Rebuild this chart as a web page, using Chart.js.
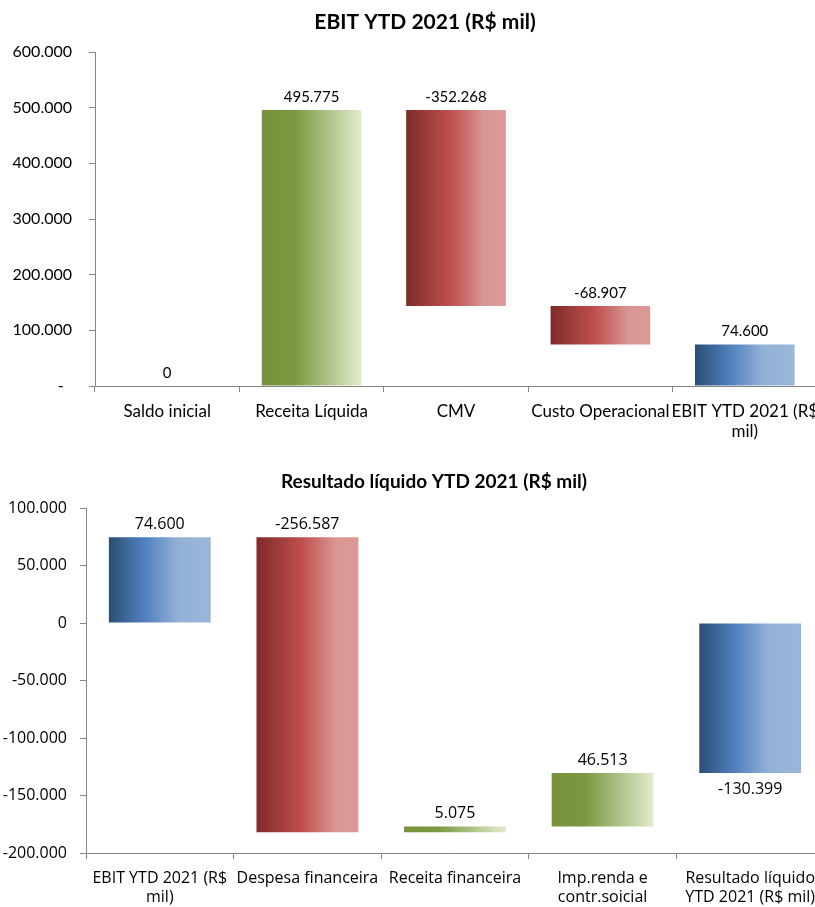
<!DOCTYPE html>
<html>
<head>
<meta charset="utf-8">
<script src="https://cdn.jsdelivr.net/npm/chart.js@4.4.1/dist/chart.umd.min.js"></script>
<style>
  html, body { margin: 0; padding: 0; background: #fff; overflow: hidden; width: 815px; height: 907px; }
  .box { position: absolute; left: 0; }
  #top { top: 0; width: 817px; height: 455px; }
  #bottom { top: 460px; width: 824px; height: 447px; }
</style>
</head>
<body>
<div class="box" id="top"><canvas id="ebitChart"></canvas></div>
<div class="box" id="bottom"><canvas id="resultChart"></canvas></div>
<script>
// ========================================
// DATA
// ========================================
const ebitLabels = ['Saldo inicial', 'Receita Líquida', 'CMV', 'Custo Operacional', ['EBIT YTD 2021 (R$', 'mil)']];
const ebitValues = [0, 495775, -352268, -68907, 74600];
const ebitKinds = ['total', 'delta', 'delta', 'delta', 'total'];
const ebitTicks = [0, 100000, 200000, 300000, 400000, 500000, 600000];

const resultLabels = [['EBIT YTD 2021 (R$', 'mil)'], 'Despesa financeira', 'Receita financeira', ['Imp.renda e', 'contr.soicial'], ['Resultado líquido', 'YTD 2021 (R$ mil)']];
const resultValues = [74600, -256587, 5075, 46513, -130399];
const resultKinds = ['total', 'delta', 'delta', 'delta', 'total'];
const resultTicks = [-200000, -150000, -100000, -50000, 0, 50000, 100000];

// ========================================
// HELPERS
// ========================================
const palettes = {
    total: [[0, '#2C4D75'], [0.35, '#4F81BD'], [0.68, '#93B1D6'], [1, '#9AB7DA']],
    up: [[0, '#76923C'], [0.33, '#7B9940'], [1, '#E2ECCF']],
    down: [[0, '#7E2B2A'], [0.45, '#C0504D'], [0.78, '#D99694'], [1, '#DA9997']]
};

const fmt = (v) => {
    const s = Math.abs(Math.round(v)).toString().replace(/\B(?=(\d{3})+(?!\d))/g, '.');
    return (v < 0 ? '-' : '') + s;
};

// floating bars [start, end] from the running total
const buildBars = (values, kinds) => {
    let run = 0;
    return values.map((v, i) => {
        if (kinds[i] === 'total') { run = v; return [0, v]; }
        const start = run;
        run += v;
        return [start, run];
    });
};

const paletteFor = (values, kinds) =>
    values.map((v, i) => kinds[i] === 'total' ? palettes.total : (v >= 0 ? palettes.up : palettes.down));

function makeChart(id, opts) {
    const { labels, values, kinds, ticks, title, fonts, axisWidth, tickPad, xPad, xHeight, topPad, zeroLabel } = opts;
    const bars = buildBars(values, kinds);
    const pals = paletteFor(values, kinds);
    const axisColor = '#868686';

    // each bar gets a left-to-right gradient over its own width
    const gradientPlugin = {
        id: 'barGradient',
        beforeDatasetsDraw(chart) {
            const ctx = chart.ctx;
            chart.getDatasetMeta(0).data.forEach((bar, i) => {
                const g = ctx.createLinearGradient(bar.x - bar.width / 2, 0, bar.x + bar.width / 2, 0);
                pals[i].forEach(([o, c]) => g.addColorStop(o, c));
                bar.options.backgroundColor = g;
            });
        }
    };

    const labelPlugin = {
        id: 'valueLabels',
        afterDatasetsDraw(chart) {
            const ctx = chart.ctx;
            ctx.save();
            ctx.font = `${fonts.value.size}px ${fonts.value.family}`;
            ctx.fillStyle = '#000';
            ctx.textAlign = 'center';
            ctx.textBaseline = 'middle';
            chart.getDatasetMeta(0).data.forEach((bar, i) => {
                const top = Math.min(bar.y, bar.base);
                const bottom = Math.max(bar.y, bar.base);
                // totals that go negative get the label under the bar
                const below = kinds[i] === 'total' && values[i] < 0;
                const y = below ? bottom + 16 : top - 13;
                ctx.fillText(fmt(values[i]), bar.x, y);
            });
            ctx.restore();
        }
    };

    const titlePlugin = {
        id: 'chartTitle',
        afterDraw(chart) {
            const ctx = chart.ctx;
            ctx.save();
            ctx.font = `bold ${fonts.title.size}px ${fonts.title.family}`;
            ctx.fillStyle = '#000';
            ctx.textAlign = 'center';
            ctx.textBaseline = 'middle';
            ctx.fillText(title, opts.titleX, opts.titleY);
            ctx.restore();
        }
    };

    return new Chart(document.getElementById(id), {
        type: 'bar',
        data: {
            labels: labels,
            datasets: [{
                data: bars,
                backgroundColor: (c) => (pals[c.dataIndex] || palettes.total)[1][1],
                borderWidth: 0,
                borderSkipped: false,
                barPercentage: 0.69,
                categoryPercentage: 1
            }]
        },
        options: {
            responsive: true,
            maintainAspectRatio: false,
            animation: false,
            layout: { padding: { top: topPad, left: 0, right: 0, bottom: 0 } },
            plugins: {
                legend: { display: false },
                tooltip: { enabled: false },
                title: { display: false }
            },
            scales: {
                x: {
                    grid: { display: true, offset: true, drawOnChartArea: false, drawTicks: true, tickLength: 6, color: axisColor },
                    border: { display: true, color: axisColor, width: 1 },
                    ticks: { color: '#000', font: fonts.cat, maxRotation: 0, autoSkip: false, padding: xPad },
                    afterFit: (scale) => {
                        scale.height = xHeight;
                        // let the last label run off the edge like the original
                        scale.paddingLeft = 0;
                        scale.paddingRight = 0;
                    }
                },
                y: {
                    min: ticks[0],
                    max: ticks[ticks.length - 1],
                    afterBuildTicks: (scale) => { scale.ticks = ticks.map(v => ({ value: v })); },
                    grid: { display: true, drawOnChartArea: false, drawTicks: true, tickLength: 6, color: axisColor },
                    border: { display: true, color: axisColor, width: 1 },
                    ticks: {
                        color: '#000',
                        font: fonts.tick,
                        padding: tickPad,
                        callback: (v) => (v === 0 ? zeroLabel : fmt(v))
                    },
                    afterFit: (scale) => { scale.width = axisWidth; }
                }
            }
        },
        plugins: [gradientPlugin, labelPlugin, titlePlugin]
    });
}

// ========================================
// CHARTS
// ========================================
makeChart('ebitChart', {
    labels: ebitLabels, values: ebitValues, kinds: ebitKinds, ticks: ebitTicks,
    title: 'EBIT YTD 2021 (R$ mil)',
    fonts: {
        title: { family: 'Lato', size: 21 },
        tick: { family: 'Lato', size: 16 },
        cat: { family: 'Lato', size: 17 },
        value: { family: 'Lato', size: 15 }
    },
    titleX: 425, titleY: 22,
    topPad: 52, axisWidth: 95, tickPad: 17, xPad: 9, xHeight: 69, zeroLabel: '-  '
});

makeChart('resultChart', {
    labels: resultLabels, values: resultValues, kinds: resultKinds, ticks: resultTicks,
    title: 'Resultado líquido YTD 2021 (R$ mil)',
    fonts: {
        title: { family: 'Lato', size: 19 },
        tick: { family: 'Open Sans', size: 16 },
        cat: { family: 'Open Sans', size: 16 },
        value: { family: 'Open Sans', size: 16 }
    },
    titleX: 434, titleY: 22,
    topPad: 48, axisWidth: 86, tickPad: 13, xPad: 10, xHeight: 54, zeroLabel: '0'
});
</script>
</body>
</html>
